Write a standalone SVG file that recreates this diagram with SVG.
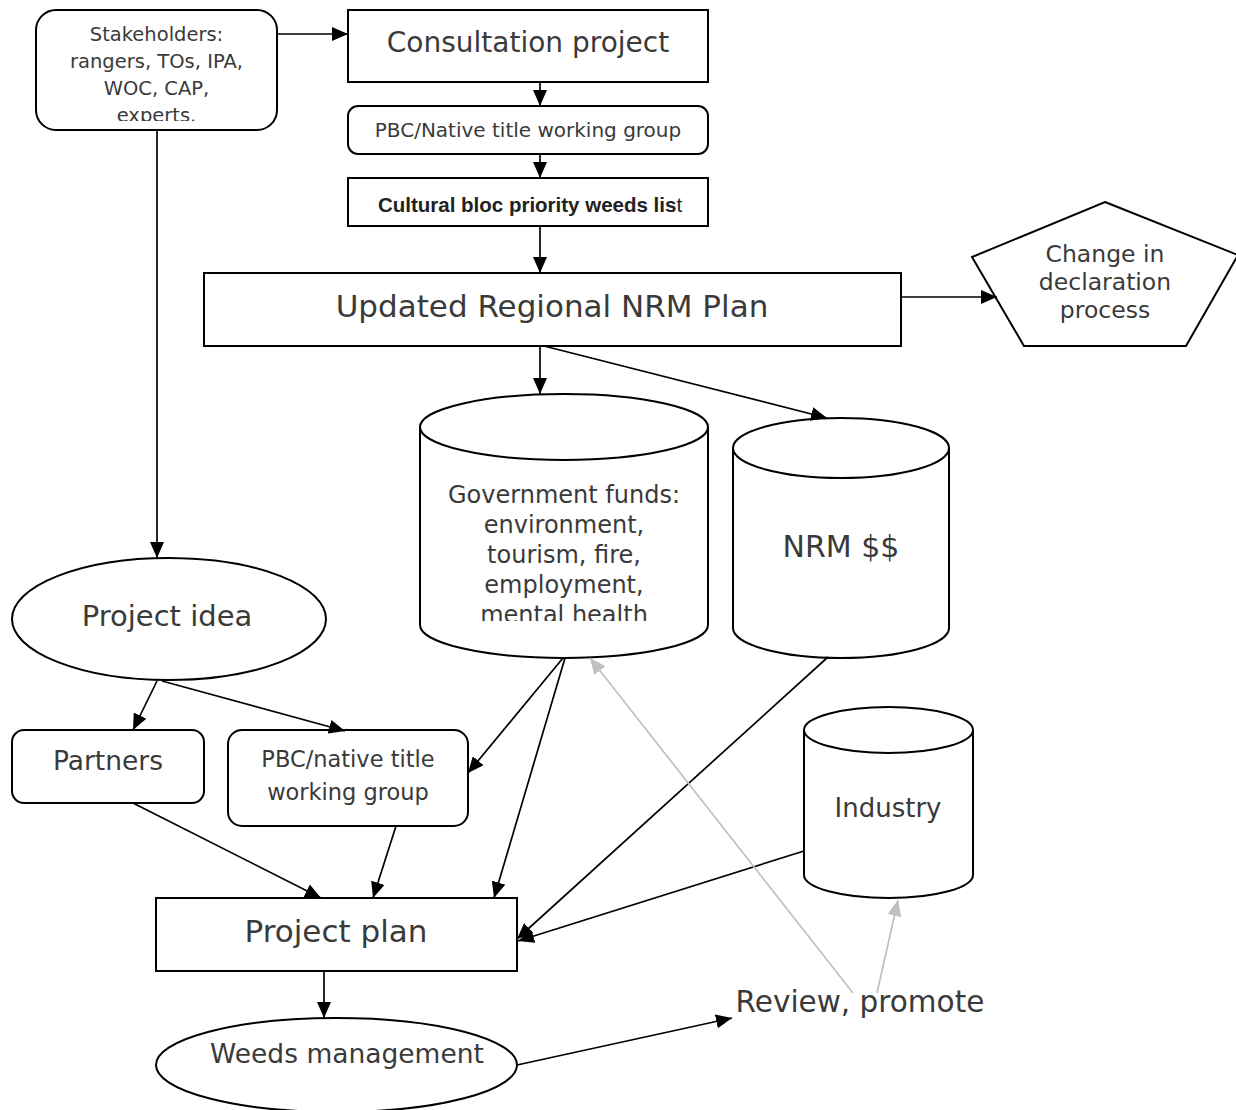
<svg xmlns="http://www.w3.org/2000/svg" width="1236" height="1110" viewBox="0 0 1236 1110">
<style>
.box{fill:#fff;stroke:#000;stroke-width:2}
.t{font-family:"DejaVu Sans","Liberation Sans",sans-serif;fill:#3a3a3a;text-anchor:middle}
.b{font-family:"Liberation Sans",Arial,sans-serif;fill:#222;text-anchor:middle;font-weight:bold}
.c{fill:none;stroke:#000;stroke-width:1.7}
.g{fill:none;stroke:#c0c0c0;stroke-width:1.7}
</style>
<defs>
<marker id="ah" viewBox="0 0 16 14" refX="16" refY="7" markerWidth="16" markerHeight="14" orient="auto" markerUnits="userSpaceOnUse"><path d="M0,0 L16,7 L0,14 z" fill="#000"/></marker>
<marker id="ahg" viewBox="0 0 16 14" refX="16" refY="7" markerWidth="16" markerHeight="14" orient="auto" markerUnits="userSpaceOnUse"><path d="M0,0 L16,7 L0,14 z" fill="#c0c0c0"/></marker>
<clipPath id="clipStake"><rect x="36" y="10" width="241" height="111"/></clipPath>
<clipPath id="clipGov"><rect x="420" y="394" width="288" height="227"/></clipPath>
</defs>

<g id="stakeholders">
<rect class="box" x="36" y="10" width="241" height="120" rx="20"/>
<g clip-path="url(#clipStake)">
<text class="t" font-size="19.5"><tspan x="156.5" y="41">Stakeholders:</tspan><tspan x="156.5" y="68">rangers, TOs, IPA,</tspan><tspan x="156.5" y="95">WOC, CAP,</tspan><tspan x="156.5" y="122">experts.</tspan></text>
</g>
</g>

<g id="consultation">
<rect class="box" x="348" y="10" width="360" height="72"/>
<text class="t" font-size="28" x="528" y="52">Consultation project</text>
</g>

<g id="pbc-top">
<rect class="box" x="348" y="106" width="360" height="48" rx="10"/>
<text class="t" font-size="20" x="528" y="137">PBC/Native title working group</text>
</g>

<g id="cultural">
<rect class="box" x="348" y="178" width="360" height="48"/>
<text class="b" font-size="20.5" x="530" y="212">Cultural bloc priority weeds lis<tspan font-weight="normal">t</tspan></text>
</g>

<g id="nrm-plan">
<rect class="box" x="204" y="273" width="697" height="73"/>
<text class="t" font-size="31" x="552" y="317">Updated Regional NRM Plan</text>
</g>

<g id="declaration">
<polygon class="box" points="1105,202 1238,255 1186,346 1024,346 972,257"/>
<text class="t" font-size="23.5"><tspan x="1105" y="262">Change in</tspan><tspan x="1105" y="290">declaration</tspan><tspan x="1105" y="318">process</tspan></text>
</g>

<g id="gov-funds">
<path class="box" d="M420,427 V625 A144,33 0 0 0 708,625 V427"/>
<ellipse class="box" cx="564" cy="427" rx="144" ry="33"/>
<g clip-path="url(#clipGov)">
<text class="t" font-size="24"><tspan x="564" y="503">Government funds:</tspan><tspan x="564" y="533">environment,</tspan><tspan x="564" y="563">tourism, fire,</tspan><tspan x="564" y="593">employment,</tspan><tspan x="564" y="623">mental health</tspan></text>
</g>
</g>

<g id="nrm-funds">
<path class="box" d="M733,448 V628 A108,30 0 0 0 949,628 V448"/>
<ellipse class="box" cx="841" cy="448" rx="108" ry="30"/>
<text class="t" font-size="30" x="841" y="557">NRM $$</text>
</g>

<g id="industry">
<path class="box" d="M804,730 V875 A84.5,23 0 0 0 973,875 V730"/>
<ellipse class="box" cx="888.5" cy="730" rx="84.5" ry="23"/>
<text class="t" font-size="26" x="888" y="817">Industry</text>
</g>

<g id="project-idea">
<ellipse class="box" cx="169" cy="619" rx="157" ry="61"/>
<text class="t" font-size="29" x="167" y="626">Project idea</text>
</g>

<g id="partners">
<rect class="box" x="12" y="730" width="192" height="73" rx="12"/>
<text class="t" font-size="26.5" x="108" y="770">Partners</text>
</g>

<g id="pbc-bottom">
<rect class="box" x="228" y="730" width="240" height="96" rx="14"/>
<text class="t" font-size="22.5"><tspan x="348" y="767">PBC/native title</tspan><tspan x="348" y="800">working group</tspan></text>
</g>

<g id="project-plan">
<rect class="box" x="156" y="898" width="361" height="73"/>
<text class="t" font-size="31" x="336" y="942">Project plan</text>
</g>

<g id="weeds">
<ellipse class="box" cx="336.5" cy="1065" rx="180.5" ry="47"/>
<text class="t" font-size="26.5" x="347" y="1063">Weeds management</text>
</g>

<g id="review">
<text class="t" font-size="29.5" x="860" y="1012">Review, promote</text>
</g>

<g id="connectors">
<line class="c" x1="277" y1="34" x2="348" y2="34" marker-end="url(#ah)"/>
<line class="c" x1="540" y1="82" x2="540" y2="106" marker-end="url(#ah)"/>
<line class="c" x1="540" y1="154" x2="540" y2="178" marker-end="url(#ah)"/>
<line class="c" x1="540" y1="226" x2="540" y2="273" marker-end="url(#ah)"/>
<line class="c" x1="901" y1="297" x2="997" y2="297" marker-end="url(#ah)"/>
<line class="c" x1="540" y1="346" x2="540" y2="394" marker-end="url(#ah)"/>
<line class="c" x1="544" y1="346" x2="827" y2="418" marker-end="url(#ah)"/>
<line class="c" x1="157" y1="130" x2="157" y2="558" marker-end="url(#ah)"/>
<line class="c" x1="157" y1="681" x2="133" y2="730" marker-end="url(#ah)"/>
<line class="c" x1="162" y1="681" x2="345" y2="731" marker-end="url(#ah)"/>
<line class="c" x1="133" y1="803" x2="321" y2="898" marker-end="url(#ah)"/>
<line class="c" x1="396" y1="826" x2="373" y2="898" marker-end="url(#ah)"/>
<line class="c" x1="563" y1="658" x2="468" y2="773" marker-end="url(#ah)"/>
<line class="c" x1="565" y1="658" x2="494" y2="898" marker-end="url(#ah)"/>
<line class="c" x1="828" y1="657" x2="517" y2="939" marker-end="url(#ah)"/>
<line class="c" x1="804" y1="851" x2="518" y2="941" marker-end="url(#ah)"/>
<line class="c" x1="324" y1="971" x2="324" y2="1018" marker-end="url(#ah)"/>
<line class="c" x1="517" y1="1065" x2="732" y2="1018" marker-end="url(#ah)"/>
<line class="g" x1="853" y1="993" x2="590" y2="658" marker-end="url(#ahg)"/>
<line class="g" x1="877" y1="993" x2="898" y2="900" marker-end="url(#ahg)"/>
</g>
</svg>
